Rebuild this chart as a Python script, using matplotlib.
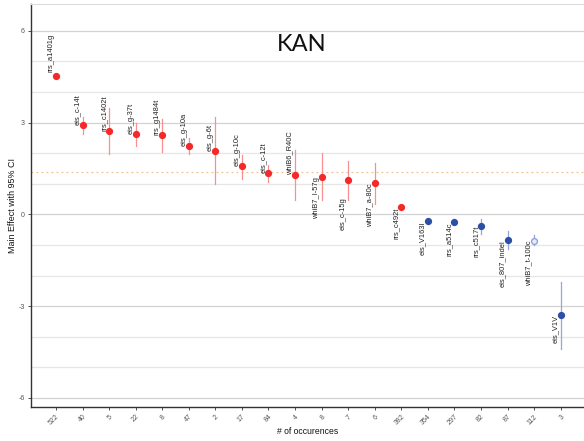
import matplotlib
matplotlib.use("Agg")
from matplotlib import pyplot as plt
import numpy as np

# mutation labels, occurrence counts and main effects (95% CI)
mutations = [
    "rrs_a1401g", "eis_c-14t", "rrs_c1402t", "eis_g-37t", "rrs_g1484t",
    "eis_g-10a", "eis_g-6t", "eis_g-10c", "eis_c-12t", "whiB6_R40C",
    "whiB7_I-57g", "eis_c-15g", "whiB7_a-80c", "rrs_c492t", "eis_V163I",
    "rrs_a514c", "rrs_c517t", "eis_807_indel", "whiB7_t-100c", "eis_V1V",
]
occurences = ["522", "40", "5", "22", "8", "47", "2", "17", "84", "4",
              "8", "7", "6", "382", "354", "297", "82", "87", "112", "3"]
effect = [4.53, 2.92, 2.72, 2.62, 2.58, 2.25, 2.08, 1.57, 1.35, 1.28,
          1.23, 1.12, 1.01, 0.23, -0.23, -0.25, -0.38, -0.84, -0.86, -3.30]
ci_low = [4.48, 2.64, 1.96, 2.25, 2.04, 1.98, 1.00, 1.17, 1.06, 0.48,
          0.46, 0.48, 0.35, 0.18, -0.33, -0.34, -0.63, -1.13, -1.01, -4.41]
ci_high = [4.58, 3.20, 3.49, 2.98, 3.13, 2.49, 3.17, 1.95, 1.63, 2.09,
           2.02, 1.76, 1.68, 0.28, -0.14, -0.16, -0.14, -0.55, -0.69, -2.21]
group = ["up"] * 14 + ["down"] * 4 + ["ns"] + ["down"]
ref_line = 1.37
title = "KAN"

RED, RED_ERR = "#F42A2A", "#F89090"
BLUE, BLUE_ERR = "#2C4FA6", "#95A4E2"
LIGHT_BLUE = "#8FA3DC"

fig = plt.figure(figsize=(5.84, 4.41), dpi=100)
ax = fig.add_axes([31 / 584, 1 - 407 / 441, 1 - 31 / 584, (407 - 4) / 441])

x = np.arange(len(mutations))

# grid at every integer
for v in range(-6, 7):
    ax.axhline(v, color="#D2D2D2" if v % 3 == 0 else "#E6E6E6", lw=0.9, zorder=0)
ax.axhline(ref_line, color="#F2C08E", lw=0.9, ls=(0, (1.5, 2.5)), zorder=1)

for i in x:
    g = group[i]
    ecol = RED_ERR if g == "up" else (BLUE_ERR if g == "down" else LIGHT_BLUE)
    ax.plot([i, i], [ci_low[i], ci_high[i]], color=ecol, lw=0.9, zorder=2)
    if g == "up":
        ax.plot(i, effect[i], "o", ms=4.2, color=RED, mec=RED, zorder=3)
    elif g == "down":
        ax.plot(i, effect[i], "o", ms=4.2, color=BLUE, mec=BLUE, zorder=3)
    else:
        ax.plot(i, effect[i], "o", ms=4.2, mfc="#E8ECF8", mec=LIGHT_BLUE,
                mew=1.0, zorder=3)

# labels: first half start at the point and go up, rest end at the point
nudge = {0: 4, 11: -17}
for i in x:
    above = i < 10
    ax.annotate(mutations[i], (i, effect[i]), xytext=(-5, nudge.get(i, 0)),
                textcoords="offset pixels", rotation=90, rotation_mode="anchor",
                ha="left" if above else "right", va="center",
                fontsize=5.4, color="#222222", family="Liberation Sans")

ax.text(0.49, 0.9, title, transform=ax.transAxes, ha="center", va="center",
        fontsize=17, family="Lato", color="#111111")

ax.set_xlim(-0.94, 19.88)
ax.set_ylim(-6.30, 6.88)
ax.set_yticks([-6, -3, 0, 3, 6])
ax.set_yticklabels(["-6", "-3", "0", "3", "6"])
ax.set_xticks(x)
ax.set_xticklabels(occurences, rotation=45, ha="right", va="top",
                   rotation_mode="anchor")
ax.tick_params(axis="both", labelsize=5.0, labelcolor="#555555",
               color="#333333", length=2.5, width=0.6, pad=2)
for lab in ax.get_xticklabels() + ax.get_yticklabels():
    lab.set_family("Liberation Sans")

ax.set_ylabel("Main Effect with 95% CI", fontsize=6.4, family="Liberation Sans",
              color="#111111", labelpad=1)
ax.set_xlabel("# of occurences", fontsize=6.2, family="Liberation Sans",
              color="#111111", labelpad=0)

for s in ["left", "bottom"]:
    ax.spines[s].set_color("#333333")
    ax.spines[s].set_linewidth(1.0)
ax.spines["top"].set_color("#DDDDDD")
ax.spines["right"].set_visible(False)

fig.savefig("out.png", dpi=100, facecolor="white")
